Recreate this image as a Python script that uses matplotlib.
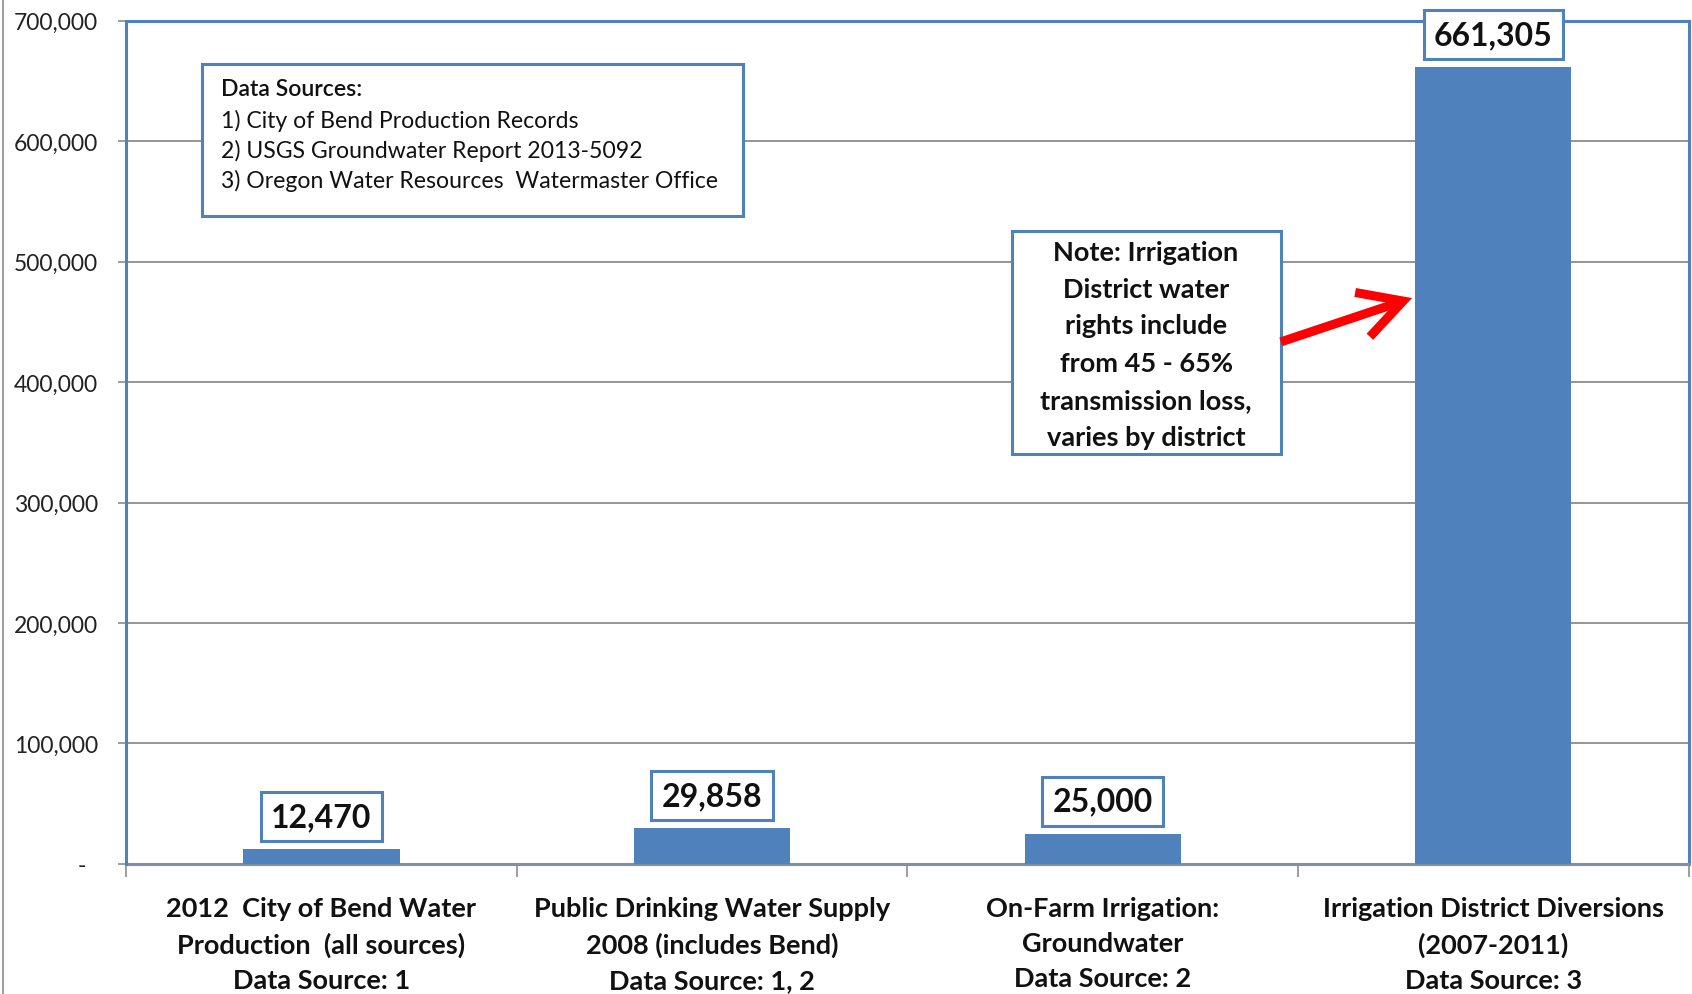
import matplotlib
matplotlib.use("Agg")
import matplotlib.pyplot as plt
from matplotlib.patches import Rectangle
from matplotlib.ticker import FixedLocator, FuncFormatter
import matplotlib.lines as mlines

plt.rcParams['font.family'] = ['Lato', 'DejaVu Sans']

categories = [
    "2012  City of Bend Water\nProduction  (all sources)\nData Source: 1",
    "Public Drinking Water Supply\n2008 (includes Bend)\nData Source: 1, 2",
    "On-Farm Irrigation:\nGroundwater\nData Source: 2",
    "Irrigation District Diversions\n(2007-2011)\nData Source: 3",
]
values = [12470, 29858, 25000, 661305]
y_ticks = [0, 100000, 200000, 300000, 400000, 500000, 600000, 700000]
sources_title = "Data Sources:"
sources_lines = [
    "1) City of Bend Production Records",
    "2) USGS Groundwater Report 2013-5092",
    "3) Oregon Water Resources  Watermaster Office",
]
note_lines = ["Note: Irrigation", "District water", "rights include",
              "from 45 - 65%", "transmission loss,", "varies by district"]

BLUE = '#4F81BD'
GRID = '#8C8C8C'

fig = plt.figure(figsize=(16.92, 9.95), dpi=100)
ax = fig.add_axes([0.0745, 0.1307, 0.9235, 0.8476])

x = list(range(len(values)))
ax.bar(x, values, width=0.4, color=BLUE, zorder=3)
ax.set_xlim(-0.5, 3.5)
ax.set_ylim(0, 700000)

ax.yaxis.set_major_locator(FixedLocator(y_ticks))
ax.yaxis.set_major_formatter(FuncFormatter(lambda v, p: "-  " if v == 0 else f"{int(v):,}"))
ax.grid(axis='y', color=GRID, linewidth=1.3, zorder=1)
ax.set_axisbelow(True)

ax.set_xticks(x)
ax.set_xticklabels(categories, fontsize=19.5, fontweight='bold', linespacing=1.56,
                   color='#111111')
ax.set_xticks([-0.5, 0.5, 1.5, 2.5, 3.5], minor=True)
ax.tick_params(axis='x', which='major', length=0, pad=23)
ax.tick_params(axis='x', which='minor', length=9, width=1.2, color=GRID)
ax.tick_params(axis='y', length=6, width=1.2, color=GRID, pad=14, labelsize=16.5,
               labelcolor='#222222')

for s in ['left', 'top', 'right']:
    ax.spines[s].set_color(BLUE)
    ax.spines[s].set_linewidth(2.2)
ax.spines['bottom'].set_color('#7F8FA8')
ax.spines['bottom'].set_linewidth(2.2)
ax.spines['left'].set_zorder(5)

# data labels
for xi, v in zip(x, values):
    ax.annotate(f"{v:,}", xy=(xi, v), xytext=(0, 13), textcoords='offset points',
                ha='center', va='bottom', fontsize=23, fontweight='bold', color='#111111',
                annotation_clip=False, zorder=6,
                bbox=dict(boxstyle='square,pad=0.32', fc='white', ec=BLUE, lw=2.2))

# data sources box
ax.add_patch(Rectangle((0.0486, 0.7683), 0.3462, 0.1803, transform=ax.transAxes,
                       fc='white', ec=BLUE, lw=2.2, zorder=6))
src_y = [0.9194, 0.8823, 0.8465, 0.8107]
for i, (yy, t) in enumerate(zip(src_y, [sources_title] + sources_lines)):
    ax.text(0.0608, yy, t, transform=ax.transAxes, ha='left', va='center',
            fontsize=16.6, color='#111111', zorder=7,
            fontweight='semibold' if i == 0 else 'normal')

# note box
ax.add_patch(Rectangle((0.5669, 0.4861), 0.1721, 0.2644, transform=ax.transAxes,
                       fc='white', ec=BLUE, lw=2.2, zorder=6))
note_y = [0.7262, 0.6814, 0.6392, 0.5945, 0.5497, 0.5062]
for yy, t in zip(note_y, note_lines):
    ax.text(0.6528, yy, t, transform=ax.transAxes, ha='center', va='center',
            fontsize=19.5, fontweight='bold', color='#111111', zorder=7)

# red arrow
ax.annotate("", xy=(0.823, 0.671), xytext=(0.739, 0.619),
            xycoords='axes fraction', textcoords='axes fraction', zorder=8,
            arrowprops=dict(arrowstyle='->,head_length=1.1,head_width=0.6',
                            mutation_scale=28,
                            color='#FF0000', lw=6.5, shrinkA=0, shrinkB=0,
                            capstyle='butt', joinstyle='miter'))

# outer frame line at left edge
fig.add_artist(mlines.Line2D([0.0018, 0.0018], [0, 1], transform=fig.transFigure,
                             color='#A0A0A0', lw=1.5))

fig.savefig("out.png", dpi=100)
